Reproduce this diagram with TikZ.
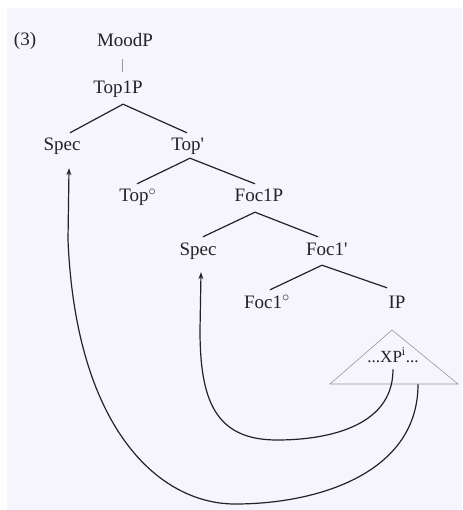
\documentclass[tikz,border=0pt]{standalone}
\usepackage{fontspec}
\setmainfont{Liberation Serif}
\usetikzlibrary{arrows.meta}
\definecolor{paper}{HTML}{F6F4FC}
\definecolor{ink}{HTML}{232323}
\tikzset{
  lab/.style={anchor=base, font=\fontsize{19}{22}\selectfont, text=ink,
    text height=13pt, text depth=5pt, inner ysep=5pt, inner xsep=1pt},
  branch/.style={draw=ink, line width=1.2pt},
  thin/.style={draw=gray!80, line width=0.6pt},
  mv/.style={draw=ink, line width=1.2pt, -{Stealth[length=7pt,width=5pt]}},
}
\begin{document}
\begin{tikzpicture}[x=1pt,y=-1pt]
\fill[white] (0,0) rectangle (462,510);
\fill[paper] (7,8) rectangle (462,510);
\useasboundingbox (0,0) rectangle (462,510);

\node[lab] (ex) at (25,46) {(3)};
\node[lab] (moodp) at (125,47) {MoodP};
\node[lab] (top1p) at (118,94) {Top1P};
\node[lab] (spec1) at (62,151) {Spec};
\node[lab] (topbar) at (186,151) {Top\rlap{\textquotesingle}};
\node[lab] (topzero) at (134,202) {Top\rlap{$^{\circ}$}};
\node[lab] (foc1p) at (259,202) {Foc1P};
\node[lab] (spec2) at (198,255) {Spec};
\node[lab] (foc1bar) at (325,255) {Foc1\rlap{\textquotesingle}};
\node[lab] (foc1zero) at (263,308) {Foc1\rlap{$^{\circ}$}};
\node[lab] (ip) at (397,308) {IP};
\node[anchor=base, font=\fontsize{17}{20}\selectfont, text=ink, inner sep=1pt] (xp) at (393,362) {...XP\textsuperscript{i}...};

\draw[thin] ([xshift=-3,yshift=-2]moodp.south) -- ([xshift=4,yshift=4]top1p.north);
\draw[branch] ([xshift=5]top1p.south) -- ([xshift=8]spec1.north);
\draw[branch] ([xshift=5]top1p.south) -- ([xshift=1]topbar.north);
\draw[branch] ([xshift=4,yshift=3]topbar.south) -- ([xshift=3]topzero.north);
\draw[branch] ([xshift=4,yshift=3]topbar.south) -- ([xshift=-4]foc1p.north);
\draw[branch] ([xshift=-4]foc1p.south) -- ([xshift=5]spec2.north);
\draw[branch] ([xshift=-4]foc1p.south) -- ([xshift=-7]foc1bar.north);
\draw[branch] ([xshift=-3]foc1bar.south) -- ([xshift=7]foc1zero.north);
\draw[branch] ([xshift=-3]foc1bar.south) -- ([xshift=-10,yshift=2]ip.north);

\draw[thin] (392,330) -- (330,384) -- (458,384) -- cycle;

\draw[mv] ([yshift=-6]xp.south) .. controls (393,430) and (320,440) .. (277,440)
  .. controls (215,440) and (200,400) .. (200,330) -- ([xshift=3,yshift=-7]spec2.south);
\draw[mv] ([xshift=25,yshift=-21]xp.south) .. controls (418,472) and (320,504) .. (235,504)
  .. controls (160,504) and (76,430) .. (68,240) -- ([xshift=7,yshift=-7]spec1.south);
\end{tikzpicture}
\end{document}
